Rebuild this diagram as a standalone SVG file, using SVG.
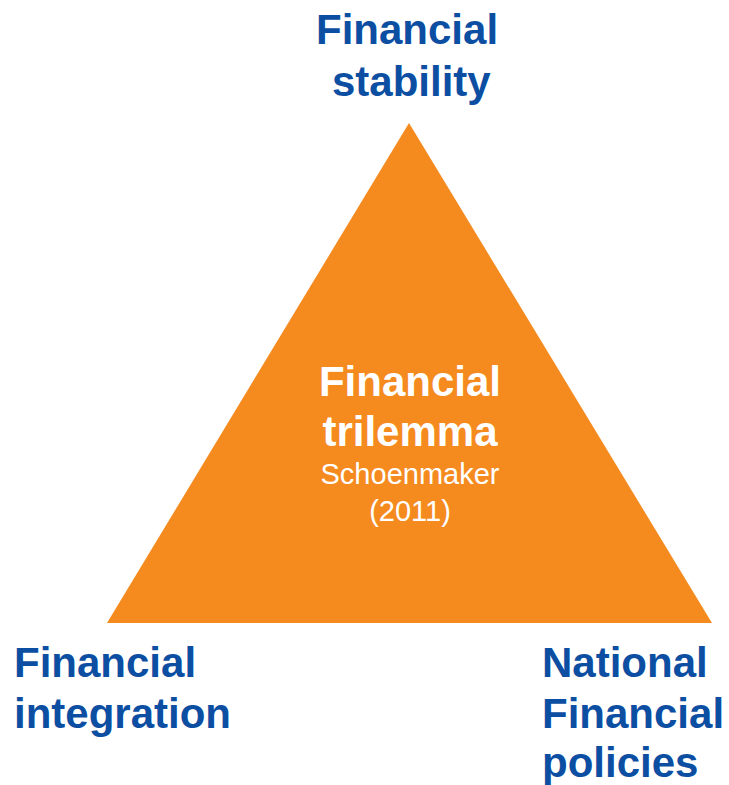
<svg xmlns="http://www.w3.org/2000/svg" width="729" height="785" viewBox="0 0 729 785">
<style>
.lbl{font-family:"Liberation Sans",Arial,sans-serif;font-weight:bold;font-size:42px;fill:#0B4EA2}
.ctr{font-family:"Liberation Sans",Arial,sans-serif;fill:#FFFFFF}
.b{font-weight:bold;font-size:42px}
.r{font-size:29px}
</style>
<rect width="729" height="785" fill="#FFFFFF"/>
<g id="triangle">
<polygon points="409,123 107,623 712,623" fill="#F58A1F"/>
<text class="ctr b" x="410" y="396" text-anchor="middle">Financial</text>
<text class="ctr b" x="410" y="446" text-anchor="middle">trilemma</text>
<text class="ctr r" x="410" y="484" text-anchor="middle">Schoenmaker</text>
<text class="ctr r" x="410" y="521" text-anchor="middle">(2011)</text>
</g>
<g id="top">
<text class="lbl" x="316" y="44">Financial</text>
<text class="lbl" x="332" y="96">stability</text>
</g>
<g id="left">
<text class="lbl" x="14" y="677">Financial</text>
<text class="lbl" x="14" y="728">integration</text>
</g>
<g id="right">
<text class="lbl" x="542" y="677">National</text>
<text class="lbl" x="542" y="728">Financial</text>
<text class="lbl" x="542" y="777">policies</text>
</g>
<g id="connectors"></g>
</svg>
